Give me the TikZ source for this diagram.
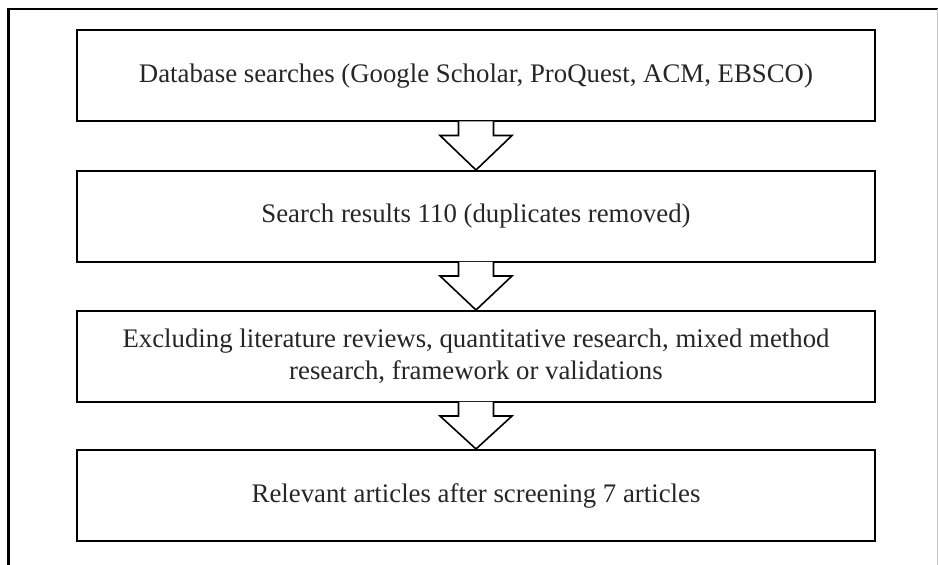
\documentclass[tikz,border=0pt]{standalone}
\usepackage{fontspec}
\setmainfont{Liberation Serif}
\usetikzlibrary{calc}
\tikzstyle{stage}=[draw,rectangle,line width=2pt,minimum width=798pt,minimum height=91pt,inner sep=0pt,align=center,font=\fontsize{26.8}{32}\selectfont,text=black!85]
\tikzstyle{hollow}=[line width=1.6pt,fill=white,line join=miter]

\begin{document}
\begin{tikzpicture}[x=1pt,y=1pt]
    \useasboundingbox (0,0) rectangle (938,565);
    % frame
    \draw[line width=2.5pt] (8.5,0) -- (8.5,556) -- (938,556);
    \draw[gray!45,line width=1pt] (937,556) -- (937,0);

    \node[stage] (s1) at (476,489) {Database searches (Google Scholar, ProQuest, ACM, EBSCO)};
    \node[stage] (s2) at (476,348.5) {Search results 110 (duplicates removed)};
    \node[stage] (s3) at (476,208.5) {Excluding literature reviews, quantitative research, mixed method\\research, framework or validations};
    \node[stage] (s4) at (476,69.5) {Relevant articles after screening 7 articles};

    \foreach \from/\to in {s1/s2,s2/s3,s3/s4}
    \filldraw[hollow] ($(\from.south)+(-17.5,1)$) -- ++(0,-14) -- ++(-18.5,0) -- (\to.north) -- ($(\from.south)+(36,-13)$) -- ++(-18.5,0) -- ++(0,14);
\end{tikzpicture}
\end{document}
